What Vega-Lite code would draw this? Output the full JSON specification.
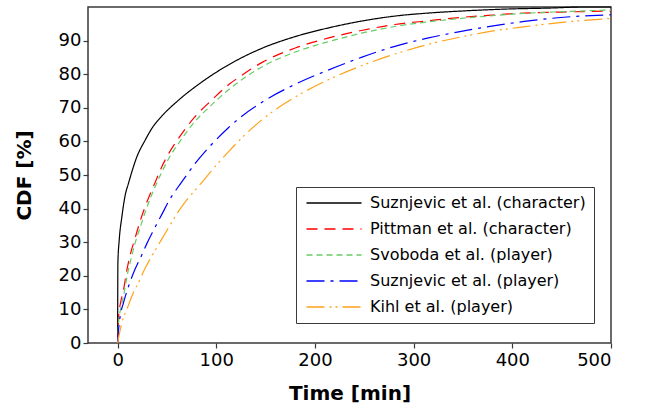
{
  "$schema": "https://vega.github.io/schema/vega-lite/v6.json",
  "width": 523,
  "height": 336,
  "autosize": {"type": "none"},
  "padding": {"left": 88, "top": 7, "right": 35, "bottom": 67},
  "config": {
    "font": "DejaVu Sans",
    "view": {"stroke": "#3a3a3a", "strokeWidth": 1.5},
    "axis": {"grid": false, "domain": false, "tickColor": "#3a3a3a", "tickSize": 5, "tickWidth": 1.2, "labelColor": "#000", "labelFontSize": 18, "titleFontSize": 20, "titleFontWeight": "bold", "titleColor": "#000"}
  },
  "data": {"values": [
    {"series": "Suznjevic et al. (character)", "t": 0, "v": 0},
    {"series": "Suznjevic et al. (character)", "t": 0.3, "v": 24},
    {"series": "Suznjevic et al. (character)", "t": 1.6, "v": 30.5},
    {"series": "Suznjevic et al. (character)", "t": 4.3, "v": 37.5},
    {"series": "Suznjevic et al. (character)", "t": 7.7, "v": 44},
    {"series": "Suznjevic et al. (character)", "t": 11, "v": 47.5},
    {"series": "Suznjevic et al. (character)", "t": 15, "v": 51.5},
    {"series": "Suznjevic et al. (character)", "t": 19.5, "v": 55.4},
    {"series": "Suznjevic et al. (character)", "t": 27.8, "v": 60.3},
    {"series": "Suznjevic et al. (character)", "t": 35, "v": 64},
    {"series": "Suznjevic et al. (character)", "t": 44.7, "v": 67.5},
    {"series": "Suznjevic et al. (character)", "t": 61.5, "v": 72.2},
    {"series": "Suznjevic et al. (character)", "t": 85, "v": 77.6},
    {"series": "Suznjevic et al. (character)", "t": 105, "v": 81.5},
    {"series": "Suznjevic et al. (character)", "t": 125, "v": 84.8},
    {"series": "Suznjevic et al. (character)", "t": 147, "v": 87.8},
    {"series": "Suznjevic et al. (character)", "t": 180, "v": 91.2},
    {"series": "Suznjevic et al. (character)", "t": 214, "v": 93.8},
    {"series": "Suznjevic et al. (character)", "t": 247, "v": 95.8},
    {"series": "Suznjevic et al. (character)", "t": 281, "v": 97.3},
    {"series": "Suznjevic et al. (character)", "t": 315, "v": 98.2},
    {"series": "Suznjevic et al. (character)", "t": 355, "v": 98.9},
    {"series": "Suznjevic et al. (character)", "t": 395, "v": 99.4},
    {"series": "Suznjevic et al. (character)", "t": 440, "v": 99.7},
    {"series": "Suznjevic et al. (character)", "t": 470, "v": 100},
    {"series": "Suznjevic et al. (character)", "t": 500, "v": 100},

    {"series": "Pittman et al. (character)", "t": 0, "v": 0},
    {"series": "Pittman et al. (character)", "t": 0.5, "v": 4},
    {"series": "Pittman et al. (character)", "t": 1, "v": 7.9},
    {"series": "Pittman et al. (character)", "t": 3, "v": 12},
    {"series": "Pittman et al. (character)", "t": 6, "v": 15.8},
    {"series": "Pittman et al. (character)", "t": 9.4, "v": 21.7},
    {"series": "Pittman et al. (character)", "t": 13, "v": 26.5},
    {"series": "Pittman et al. (character)", "t": 17.7, "v": 31.2},
    {"series": "Pittman et al. (character)", "t": 22, "v": 35.5},
    {"series": "Pittman et al. (character)", "t": 27.8, "v": 40.5},
    {"series": "Pittman et al. (character)", "t": 37.9, "v": 47.7},
    {"series": "Pittman et al. (character)", "t": 44.7, "v": 52.4},
    {"series": "Pittman et al. (character)", "t": 52, "v": 56.5},
    {"series": "Pittman et al. (character)", "t": 61.5, "v": 60.8},
    {"series": "Pittman et al. (character)", "t": 78, "v": 67.2},
    {"series": "Pittman et al. (character)", "t": 95, "v": 72.2},
    {"series": "Pittman et al. (character)", "t": 113, "v": 77},
    {"series": "Pittman et al. (character)", "t": 125, "v": 79.5},
    {"series": "Pittman et al. (character)", "t": 147, "v": 83.6},
    {"series": "Pittman et al. (character)", "t": 180, "v": 87.8},
    {"series": "Pittman et al. (character)", "t": 214, "v": 90.8},
    {"series": "Pittman et al. (character)", "t": 247, "v": 93},
    {"series": "Pittman et al. (character)", "t": 281, "v": 94.8},
    {"series": "Pittman et al. (character)", "t": 315, "v": 95.9},
    {"series": "Pittman et al. (character)", "t": 348, "v": 96.9},
    {"series": "Pittman et al. (character)", "t": 380, "v": 97.6},
    {"series": "Pittman et al. (character)", "t": 412, "v": 98.2},
    {"series": "Pittman et al. (character)", "t": 450, "v": 98.5},
    {"series": "Pittman et al. (character)", "t": 500, "v": 98.8},

    {"series": "Svoboda et al. (player)", "t": 0, "v": 0},
    {"series": "Svoboda et al. (player)", "t": 0.5, "v": 3},
    {"series": "Svoboda et al. (player)", "t": 1, "v": 6},
    {"series": "Svoboda et al. (player)", "t": 3, "v": 10},
    {"series": "Svoboda et al. (player)", "t": 6, "v": 14},
    {"series": "Svoboda et al. (player)", "t": 10, "v": 20.5},
    {"series": "Svoboda et al. (player)", "t": 14, "v": 25.5},
    {"series": "Svoboda et al. (player)", "t": 18, "v": 30},
    {"series": "Svoboda et al. (player)", "t": 23, "v": 34.5},
    {"series": "Svoboda et al. (player)", "t": 28, "v": 39},
    {"series": "Svoboda et al. (player)", "t": 38, "v": 46.5},
    {"series": "Svoboda et al. (player)", "t": 45, "v": 51},
    {"series": "Svoboda et al. (player)", "t": 52, "v": 55},
    {"series": "Svoboda et al. (player)", "t": 61.5, "v": 59.3},
    {"series": "Svoboda et al. (player)", "t": 78, "v": 65.8},
    {"series": "Svoboda et al. (player)", "t": 95, "v": 70.8},
    {"series": "Svoboda et al. (player)", "t": 113, "v": 75.5},
    {"series": "Svoboda et al. (player)", "t": 125, "v": 78.2},
    {"series": "Svoboda et al. (player)", "t": 147, "v": 82.3},
    {"series": "Svoboda et al. (player)", "t": 180, "v": 86.6},
    {"series": "Svoboda et al. (player)", "t": 214, "v": 89.7},
    {"series": "Svoboda et al. (player)", "t": 247, "v": 92.2},
    {"series": "Svoboda et al. (player)", "t": 281, "v": 94.2},
    {"series": "Svoboda et al. (player)", "t": 315, "v": 95.6},
    {"series": "Svoboda et al. (player)", "t": 348, "v": 96.6},
    {"series": "Svoboda et al. (player)", "t": 380, "v": 97.4},
    {"series": "Svoboda et al. (player)", "t": 412, "v": 98.1},
    {"series": "Svoboda et al. (player)", "t": 450, "v": 98.6},
    {"series": "Svoboda et al. (player)", "t": 500, "v": 99.1},

    {"series": "Suznjevic et  al. (player)", "t": 0, "v": 0},
    {"series": "Suznjevic et  al. (player)", "t": 1, "v": 4},
    {"series": "Suznjevic et  al. (player)", "t": 2.6, "v": 7.9},
    {"series": "Suznjevic et  al. (player)", "t": 6, "v": 12},
    {"series": "Suznjevic et  al. (player)", "t": 11, "v": 16.8},
    {"series": "Suznjevic et  al. (player)", "t": 17, "v": 21.5},
    {"series": "Suznjevic et  al. (player)", "t": 24.5, "v": 26.2},
    {"series": "Suznjevic et  al. (player)", "t": 30, "v": 29.8},
    {"series": "Suznjevic et  al. (player)", "t": 36.3, "v": 33.5},
    {"series": "Suznjevic et  al. (player)", "t": 44.7, "v": 38.2},
    {"series": "Suznjevic et  al. (player)", "t": 53, "v": 42.8},
    {"series": "Suznjevic et  al. (player)", "t": 61.5, "v": 46.5},
    {"series": "Suznjevic et  al. (player)", "t": 70, "v": 50},
    {"series": "Suznjevic et  al. (player)", "t": 78, "v": 53.2},
    {"series": "Suznjevic et  al. (player)", "t": 95, "v": 59},
    {"series": "Suznjevic et  al. (player)", "t": 112, "v": 64},
    {"series": "Suznjevic et  al. (player)", "t": 125, "v": 67.3},
    {"series": "Suznjevic et  al. (player)", "t": 147, "v": 71.8},
    {"series": "Suznjevic et  al. (player)", "t": 180, "v": 77},
    {"series": "Suznjevic et  al. (player)", "t": 214, "v": 81.3},
    {"series": "Suznjevic et  al. (player)", "t": 247, "v": 85},
    {"series": "Suznjevic et  al. (player)", "t": 281, "v": 88.3},
    {"series": "Suznjevic et  al. (player)", "t": 315, "v": 90.8},
    {"series": "Suznjevic et  al. (player)", "t": 355, "v": 93.1},
    {"series": "Suznjevic et  al. (player)", "t": 379, "v": 94.3},
    {"series": "Suznjevic et  al. (player)", "t": 412, "v": 95.7},
    {"series": "Suznjevic et  al. (player)", "t": 446, "v": 96.8},
    {"series": "Suznjevic et  al. (player)", "t": 500, "v": 97.7},

    {"series": "Kihl et al. (player)", "t": 0, "v": 0},
    {"series": "Kihl et al. (player)", "t": 2, "v": 3},
    {"series": "Kihl et al. (player)", "t": 4.3, "v": 6},
    {"series": "Kihl et al. (player)", "t": 10, "v": 10.5},
    {"series": "Kihl et al. (player)", "t": 15.7, "v": 14.8},
    {"series": "Kihl et al. (player)", "t": 22, "v": 18.5},
    {"series": "Kihl et al. (player)", "t": 28, "v": 22.3},
    {"series": "Kihl et al. (player)", "t": 35, "v": 26},
    {"series": "Kihl et al. (player)", "t": 41.3, "v": 29.2},
    {"series": "Kihl et al. (player)", "t": 48, "v": 32.5},
    {"series": "Kihl et al. (player)", "t": 55, "v": 36},
    {"series": "Kihl et al. (player)", "t": 62, "v": 39.3},
    {"series": "Kihl et al. (player)", "t": 68, "v": 41.8},
    {"series": "Kihl et al. (player)", "t": 75, "v": 44.3},
    {"series": "Kihl et al. (player)", "t": 81.6, "v": 46.5},
    {"series": "Kihl et al. (player)", "t": 95, "v": 51.2},
    {"series": "Kihl et al. (player)", "t": 112, "v": 56.8},
    {"series": "Kihl et al. (player)", "t": 125, "v": 60.8},
    {"series": "Kihl et al. (player)", "t": 147, "v": 66.6},
    {"series": "Kihl et al. (player)", "t": 180, "v": 73.2},
    {"series": "Kihl et al. (player)", "t": 214, "v": 78.4},
    {"series": "Kihl et al. (player)", "t": 247, "v": 82.5},
    {"series": "Kihl et al. (player)", "t": 281, "v": 86},
    {"series": "Kihl et al. (player)", "t": 315, "v": 88.9},
    {"series": "Kihl et al. (player)", "t": 355, "v": 91.5},
    {"series": "Kihl et al. (player)", "t": 379, "v": 92.8},
    {"series": "Kihl et al. (player)", "t": 412, "v": 94.1},
    {"series": "Kihl et al. (player)", "t": 446, "v": 95.3},
    {"series": "Kihl et al. (player)", "t": 500, "v": 96.6}
  ]},
  "mark": {"type": "line", "strokeWidth": 1.2, "interpolate": "monotone"},
  "encoding": {
    "x": {"field": "t", "type": "quantitative", "scale": {"domain": [-30, 500], "nice": false, "zero": false}, "axis": {"values": [0, 100, 200, 300, 400, 500], "title": "Time [min]", "labelPadding": 3, "titlePadding": 14}},
    "y": {"field": "v", "type": "quantitative", "scale": {"domain": [0, 100], "nice": false}, "axis": {"values": [0, 10, 20, 30, 40, 50, 60, 70, 80, 90], "title": "CDF [%]", "labelPadding": 2, "titlePadding": 24}},
    "color": {"field": "series", "type": "nominal", "title": null,
      "scale": {"domain": ["Suznjevic et al. (character)", "Pittman et al. (character)", "Svoboda et al. (player)", "Suznjevic et  al. (player)", "Kihl et al. (player)"], "range": ["#000000", "#ff0000", "#66cc66", "#0000ff", "#ffa31a"]},
      "legend": {"orient": "none", "legendX": 208, "legendY": 180, "symbolType": "M-5,0L5,0", "symbolSize": 121, "symbolOffset": 22, "labelOffset": 28, "symbolStrokeWidth": 1.3, "labelFontSize": 16, "labelColor": "#000", "rowPadding": 10, "padding": 8, "strokeColor": "#3a3a3a", "fillColor": "white", "labelLimit": 300}},
    "strokeDash": {"field": "series", "type": "nominal", "title": null,
      "scale": {"domain": ["Suznjevic et al. (character)", "Pittman et al. (character)", "Svoboda et al. (player)", "Suznjevic et  al. (player)", "Kihl et al. (player)"], "range": [[1, 0], [11, 7], [6, 4], [18, 6, 3, 6], [18, 5, 2, 4, 2, 5]]},
      "legend": {"orient": "none", "legendX": 208, "legendY": 180, "symbolType": "M-5,0L5,0", "symbolSize": 121, "symbolOffset": 22, "labelOffset": 28, "symbolStrokeWidth": 1.3, "labelFontSize": 16, "labelColor": "#000", "rowPadding": 10, "padding": 8, "strokeColor": "#3a3a3a", "fillColor": "white", "labelLimit": 300}}
  }
}
